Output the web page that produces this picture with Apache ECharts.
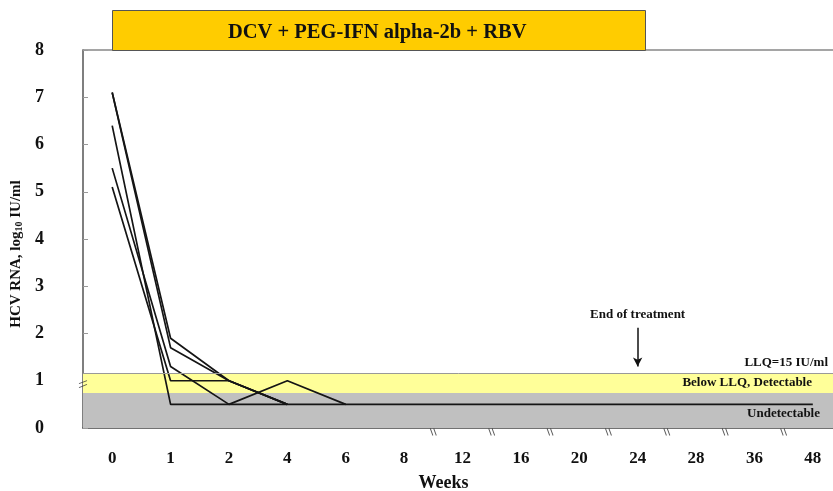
<!DOCTYPE html>
<html>
<head>
<meta charset="utf-8">
<script src="https://cdn.jsdelivr.net/npm/echarts@6/dist/echarts.min.js"></script>
<style>html,body{margin:0;padding:0;background:#fff}#c{width:833px;height:491px}</style>
</head>
<body>
<div id="c"></div>
<script>
// ---- data ----
var weeks = ['0','1','2','4','6','8','12','16','20','24','28','36','48'];
var patient1 = [7.1, 1.9, 1.0, 0.5, null, null, null, null, null, null, null, null, null];
var patient2 = [7.1, 1.7, 1.0, 0.5, null, null, null, null, null, null, null, null, null];
var patient3 = [6.4, 0.5, 0.5, 0.5, 0.5, 0.5, 0.5, 0.5, 0.5, 0.5, 0.5, 0.5, 0.5];
var patient4 = [5.5, 1.3, 0.5, 1.0, 0.5, null, null, null, null, null, null, null, null];
var patient5 = [5.1, 1.0, 1.0, 0.5, null, null, null, null, null, null, null, null, null];
var yTicks = [0,1,2,3,4,5,6,7,8];
var undetectableBand = [0, 0.74];
var detectableBand = [0.74, 1.16];
var endOfTreatmentWeek = '24';
var arrowFromTo = [2.12, 1.3];
var xBreaks = [5.5, 6.5, 7.5, 8.5, 9.5, 10.5, 11.5];
var yBreak = [-0.5, 0.93];

var SERIF = 'Liberation Serif';
var chart = echarts.init(document.getElementById('c'), null, {renderer: 'canvas'});

function lineSeries(name, data) {
  return {
    name: name, type: 'line', data: data, xAxisIndex: 0, yAxisIndex: 0,
    symbol: 'none', connectNulls: false, z: 4,
    lineStyle: {color: '#151515', width: 1.7}
  };
}

var option = {
  animation: false,
  backgroundColor: '#ffffff',
  grid: {left: 83, width: 759, top: 50, bottom: 63, containLabel: false, outerBoundsMode: 'none'},
  xAxis: [
    {
      type: 'category', data: weeks, boundaryGap: true, position: 'bottom',
      axisLine: {show: true, onZero: false, lineStyle: {color: '#444', width: 1.5}},
      axisTick: {show: true, inside: true, length: 5, alignWithLabel: true, lineStyle: {color: '#888'}},
      axisLabel: {fontFamily: SERIF, fontWeight: 'bold', fontSize: 17, color: '#111', margin: 22},
      splitLine: {show: false},
      name: 'Weeks', nameLocation: 'middle', nameGap: 46,
      nameTextStyle: {fontFamily: SERIF, fontWeight: 'bold', fontSize: 18, color: '#111', padding: [0, 38, 0, 0]}
    },
    {
      type: 'category', data: weeks, boundaryGap: true, position: 'top',
      axisLine: {show: true, onZero: false, lineStyle: {color: '#888', width: 1.5}},
      axisTick: {show: false}, axisLabel: {show: false}, splitLine: {show: false}
    },
    {
      type: 'value', min: -0.5, max: 12.5, show: false
    }
  ],
  yAxis: {
    type: 'value', min: 0, max: 8, interval: 1,
    axisLine: {show: true, onZero: false, lineStyle: {color: '#555', width: 1.5}},
    axisTick: {show: true, inside: true, length: 5, lineStyle: {color: '#999'}},
    splitLine: {show: false},
    axisLabel: {fontFamily: SERIF, fontWeight: 'bold', fontSize: 18, color: '#111', margin: 39,
      formatter: function (v) { return yTicks.indexOf(v) >= 0 ? String(v) : ''; }},
    name: 'HCV RNA, log{s|10} IU/ml', nameLocation: 'middle', nameGap: 41,
    nameTextStyle: {fontFamily: SERIF, fontWeight: 'bold', fontSize: 15, color: '#111', padding: [0, 30, 0, 0],
      rich: {s: {fontFamily: SERIF, fontWeight: 'bold', fontSize: 10, color: '#111', padding: [6, 0, 0, 0]}}}
  },
  graphic: [
    {type: 'rect', left: 112, top: 10, z: 10,
      shape: {width: 533, height: 40}, style: {fill: '#FFCC00', stroke: '#555', lineWidth: 1}},
    {type: 'text', left: 228, top: 22, z: 11,
      style: {text: 'DCV + PEG-IFN alpha-2b + RBV', font: 'bold 20.5px "Liberation Serif"', fill: '#111'}},
    {type: 'text', right: 5, top: 356, z: 11,
      style: {text: 'LLQ=15 IU/ml', font: 'bold 13px "Liberation Serif"', fill: '#111'}},
    {type: 'text', right: 21, top: 376, z: 11,
      style: {text: 'Below LLQ, Detectable', font: 'bold 13px "Liberation Serif"', fill: '#111'}},
    {type: 'text', right: 13, top: 407, z: 11,
      style: {text: 'Undetectable', font: 'bold 13px "Liberation Serif"', fill: '#111'}}
  ],
  series: [
    {
      name: 'bands', type: 'line', data: weeks.map(function () { return null; }), z: 1,
      symbol: 'none', silent: true,
      markArea: {
        silent: true,
        data: [
          [{yAxis: undetectableBand[0], itemStyle: {color: '#c0c0c0'}}, {yAxis: undetectableBand[1]}],
          [{yAxis: detectableBand[0], itemStyle: {color: '#FFFF99'}}, {yAxis: detectableBand[1]}]
        ]
      },
      markLine: {
        silent: true, animation: false, symbol: ['none', 'none'],
        data: [
          {yAxis: detectableBand[1], lineStyle: {color: '#999', width: 1, type: 'solid'}, label: {show: false}},
          [{coord: [endOfTreatmentWeek, arrowFromTo[0]], symbol: 'none',
            lineStyle: {color: '#111', width: 1.5, type: 'solid'},
            label: {show: true, position: 'start', distance: 7, formatter: 'End of treatment',
              fontFamily: SERIF, fontWeight: 'bold', fontSize: 13, color: '#111'}},
           {coord: [endOfTreatmentWeek, arrowFromTo[1]], symbol: 'arrow', symbolSize: [7, 9]}]
        ]
      }
    },
    lineSeries('P1', patient1),
    lineSeries('P2', patient2),
    lineSeries('P3', patient3),
    lineSeries('P4', patient4),
    lineSeries('P5', patient5),
    {
      name: 'xbreaks', type: 'scatter', xAxisIndex: 2, yAxisIndex: 0, z: 6, clip: false, silent: true,
      data: xBreaks.map(function (b) { return [b, 0]; }),
      symbol: 'path://M0,0L3,10M4,0L7,10', symbolSize: [6, 7], symbolOffset: [0, 4],
      itemStyle: {color: 'rgba(0,0,0,0)', borderColor: '#333', borderWidth: 1}
    },
    {
      name: 'ybreak', type: 'scatter', xAxisIndex: 2, yAxisIndex: 0, z: 6, clip: false, silent: true,
      data: [yBreak],
      symbol: 'path://M0,4L8,0M0,9L8,5', symbolSize: [8, 7],
      itemStyle: {color: 'rgba(0,0,0,0)', borderColor: '#333', borderWidth: 1}
    }
  ]
};
chart.setOption(option);
</script>
</body>
</html>
